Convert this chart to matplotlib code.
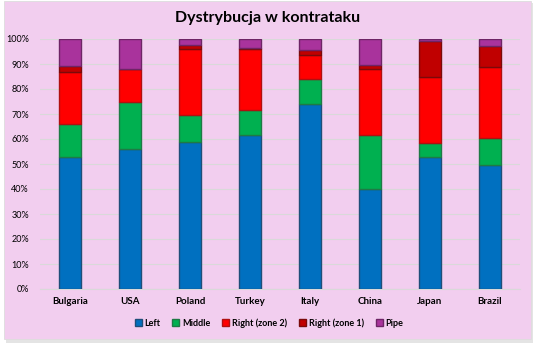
import matplotlib.pyplot as plt
from matplotlib.patches import FancyBboxPatch
from matplotlib.ticker import PercentFormatter
import numpy as np

plt.rcParams['font.family'] = ['Lato', 'DejaVu Sans']

countries = ["Bulgaria", "USA", "Poland", "Turkey", "Italy", "China", "Japan", "Brazil"]
left = [52.9, 56.1, 59.0, 61.8, 74.0, 40.1, 52.7, 49.8]
middle = [13.2, 18.8, 10.7, 10.0, 10.2, 21.6, 5.6, 10.7]
right_z2 = [20.7, 13.2, 26.4, 24.2, 9.4, 26.4, 26.7, 28.3]
right_z1 = [2.5, 0.0, 1.4, 0.3, 2.1, 1.6, 14.2, 8.4]
pipe = [10.7, 11.9, 2.5, 3.7, 4.3, 10.3, 0.8, 2.8]

series = [
    ("Left", left, "#0070C0", "#1F4E79"),
    ("Middle", middle, "#00B050", "#1E7A45"),
    ("Right (zone 2)", right_z2, "#FF0000", "#B01010"),
    ("Right (zone 1)", right_z1, "#C00000", "#7A0A0A"),
    ("Pipe", pipe, "#A9339C", "#6E2466"),
]

fig = plt.figure(figsize=(5.35, 3.47), dpi=100)
fig.patch.set_facecolor("white")

# shadow + pink chart background
W, H = 535, 347
shadow = FancyBboxPatch((6 / W, 1 - 343 / H), 527 / W, 340 / H, boxstyle="square,pad=0",
                        transform=fig.transFigure, facecolor="#E4E4E4", edgecolor="none", zorder=0)
bg = FancyBboxPatch((4 / W, 1 - 339 / H), 527 / W, 338 / H, boxstyle="square,pad=0",
                    transform=fig.transFigure, facecolor="#F2CEEF", edgecolor="#DDDDDD",
                    linewidth=0.6, zorder=1)
fig.patches.extend([shadow, bg])

ax = fig.add_axes([40 / W, 1 - 289 / H, 480 / W, 250 / H])
ax.set_facecolor("none")
ax.set_zorder(2)

x = np.arange(len(countries))
bottom = np.zeros(len(countries))
handles = []
for name, vals, col, edge in series:
    b = ax.bar(x, vals, bottom=bottom, width=0.38, color=col, edgecolor=edge,
               linewidth=1.0, label=name, zorder=3)
    handles.append(b)
    bottom += np.array(vals)

ax.set_xlim(-0.5, len(countries) - 0.5)
ax.set_ylim(0, 100)
ax.set_yticks(np.arange(0, 101, 10))
ax.yaxis.set_major_formatter(PercentFormatter(decimals=0))
ax.set_xticks(x)
ax.set_xticklabels(countries, fontsize=7, fontweight="bold")
ax.tick_params(axis="y", labelsize=6.5, length=0, pad=8)
ax.tick_params(axis="x", length=0, pad=6)
ax.grid(axis="y", color="#D9D9D9", linewidth=0.8, zorder=0)
for s in ["top", "right", "left"]:
    ax.spines[s].set_visible(False)
ax.spines["bottom"].set_color("#D9D9D9")

fig.text(268 / W, 1 - 18 / H, "Dystrybucja w kontrataku", ha="center", va="center",
         fontsize=11.5, fontweight="bold")

leg = fig.legend(handles=handles, loc="center", bbox_to_anchor=(269 / W, 1 - 323 / H),
                 ncol=5, frameon=False, handlelength=0.8, handleheight=0.8,
                 handletextpad=0.3, columnspacing=1.3,
                 prop={"weight": "bold", "size": 6.5})

fig.savefig("out.png", dpi=100)
